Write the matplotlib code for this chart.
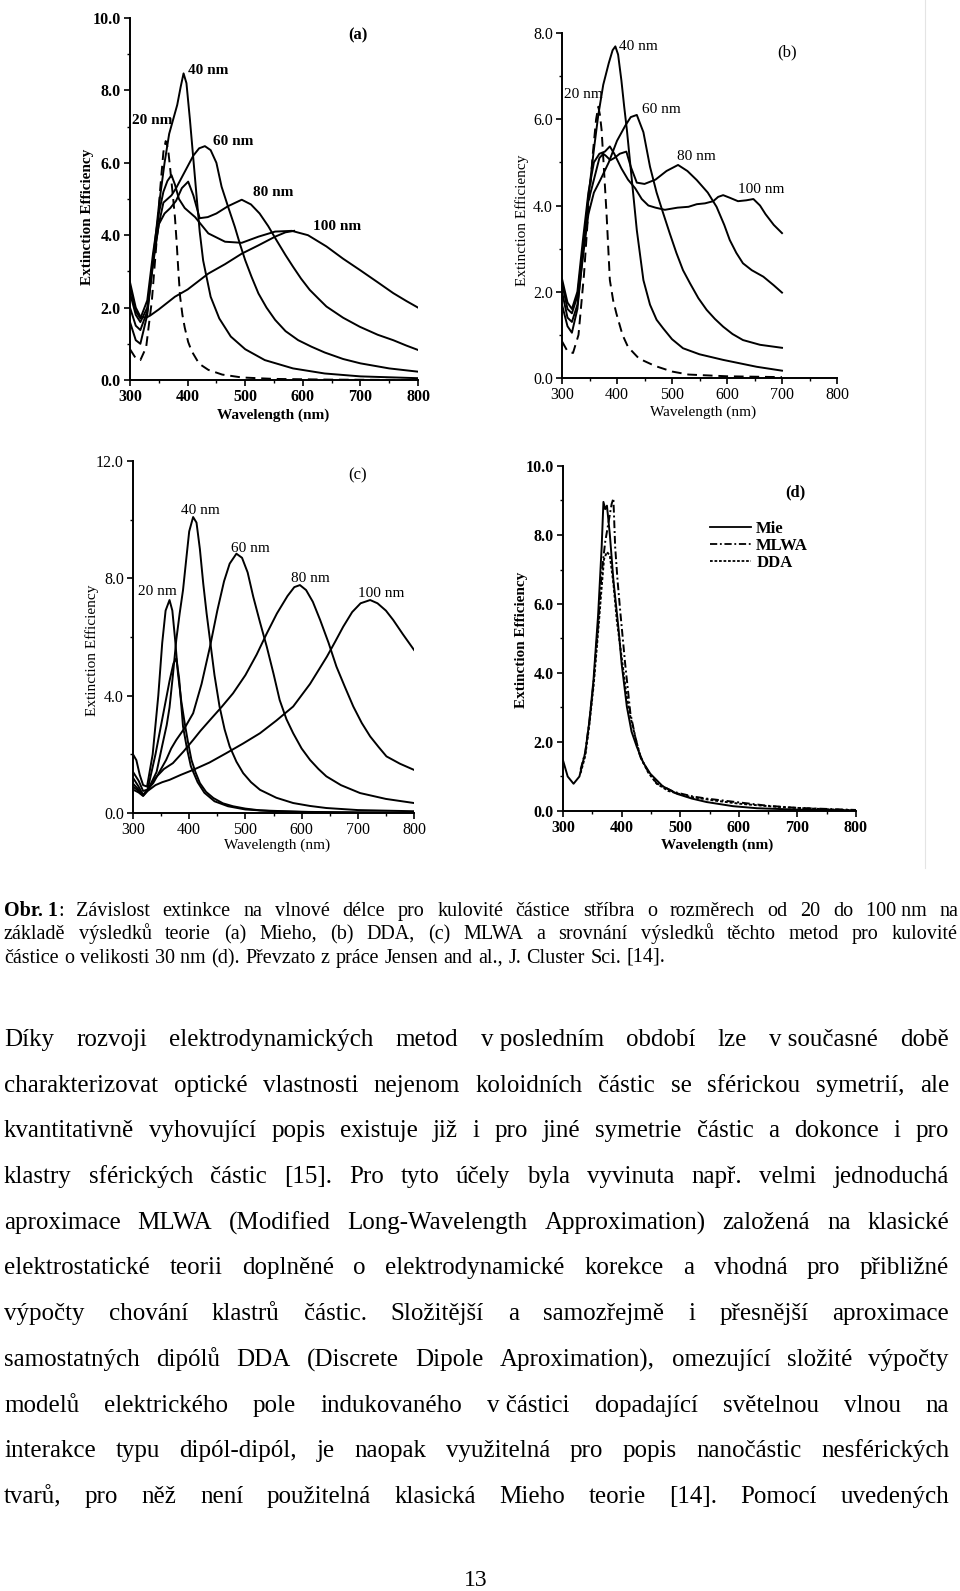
import numpy as np
import matplotlib
matplotlib.use('Agg')
import matplotlib.pyplot as plt
from matplotlib.ticker import MultipleLocator, FormatStrFormatter
from matplotlib.lines import Line2D
from matplotlib.figure import Figure
from matplotlib.backends.backend_agg import FigureCanvasAgg

FAMILY = ['Liberation Serif', 'DejaVu Serif']
plt.rcParams['font.family'] = FAMILY

W, H = 960, 1591

# (a) Mie
wl_a20 = [300,310,318,328,338,346,352,358,362,366,370,375,378,381,384,387,391,395,401,407,420,436,460,494,550,650,800]
ext_a20 = [0.85,0.6,0.55,0.9,2.2,3.8,5.2,6.3,6.6,6.4,5.8,5.0,4.5,3.8,3.0,2.3,1.8,1.45,1.05,0.8,0.45,0.28,0.15,0.07,0.03,0.01,0.0]
wl_a40 = [300,310,318,330,340,350,360,368,375,382,388,393,398,404,410,416,421,427,440,455,475,500,534,583,638,700,800]
ext_a40 = [1.6,1.1,1.0,1.8,3.3,4.8,6.0,6.8,7.2,7.6,8.1,8.47,8.2,7.2,6.1,5.0,4.1,3.3,2.3,1.7,1.2,0.85,0.55,0.32,0.18,0.1,0.05]
wl_a60 = [300,310,318,330,340,350,358,365,372,380,390,400,410,420,430,440,450,459,470,482,491,500,511,523,537,552,570,592,615,638,670,700,750,800]
ext_a60 = [2.0,1.5,1.38,1.9,3.2,4.3,4.9,5.0,5.1,5.3,5.6,5.9,6.2,6.4,6.46,6.35,6.0,5.34,4.8,4.23,3.75,3.31,2.85,2.39,2.0,1.66,1.35,1.1,0.92,0.76,0.58,0.46,0.32,0.23]
wl_a80 = [300,310,318,330,340,350,360,370,380,390,401,410,421,435,450,470,494,510,525,540,554,570,583,597,612,627,641,670,699,730,757,780,800]
ext_a80 = [2.4,1.8,1.6,2.0,3.3,4.3,4.6,4.75,4.95,5.3,5.48,5.1,4.47,4.5,4.6,4.8,4.98,4.85,4.6,4.25,3.87,3.45,3.13,2.8,2.49,2.25,2.03,1.72,1.47,1.25,1.1,0.95,0.83]
wl_a100 = [300,310,318,330,340,350,358,365,372,378,385,395,413,436,465,494,523,552,581,609,641,670,699,730,757,780,800]
ext_a100 = [2.6,1.9,1.7,2.2,3.5,4.6,5.2,5.5,5.66,5.4,5.0,4.75,4.5,4.05,3.82,3.79,3.96,4.1,4.12,4.0,3.69,3.35,3.04,2.7,2.4,2.18,2.0]
wl_a_low = [300,310,318,328,335,350,378,400,436,465,494,523,552,570,585]
ext_a_low = [2.7,2.0,1.75,1.72,1.78,1.95,2.3,2.5,2.94,3.2,3.49,3.72,3.96,4.08,4.12]

# (b) DDA
wl_b20 = [300,310,320,330,340,348,356,362,366,369,372,376,381,387,393,399,410,420,440,469,500,530,600,700]
ext_b20 = [0.85,0.62,0.58,1.0,2.4,3.9,5.2,6.0,6.29,6.1,5.75,4.9,3.81,2.27,1.8,1.49,1.0,0.72,0.45,0.28,0.15,0.08,0.04,0.02]
wl_b40 = [300,310,318,328,338,348,358,366,375,385,392,397,402,408,413,418,427,436,448,460,472,484,500,520,550,593,654,700]
ext_b40 = [1.7,1.2,1.05,1.6,2.9,4.2,5.3,6.1,6.8,7.3,7.6,7.69,7.5,6.9,6.3,5.75,4.59,3.43,2.27,1.7,1.35,1.15,0.9,0.69,0.55,0.42,0.26,0.17]
wl_b60 = [300,310,318,328,338,348,358,370,385,400,415,425,436,448,460,472,484,496,508,520,533,548,563,578,593,610,629,660,700]
ext_b60 = [2.0,1.4,1.3,1.7,2.8,3.8,4.3,4.6,5.0,5.5,5.85,6.05,6.1,5.7,4.9,4.3,3.82,3.35,2.9,2.5,2.19,1.85,1.58,1.37,1.19,1.02,0.88,0.77,0.70]
wl_b80 = [300,310,318,328,338,348,358,368,375,380,388,395,405,417,425,436,450,470,490,511,528,545,565,581,595,605,617,629,645,666,685,700]
ext_b80 = [2.2,1.6,1.5,1.9,3.0,4.1,4.6,5.1,5.2,5.15,5.05,5.1,5.2,5.25,4.9,4.53,4.5,4.6,4.8,4.94,4.8,4.59,4.3,3.97,3.55,3.2,2.9,2.66,2.5,2.35,2.15,1.98]
wl_b100 = [300,310,318,328,338,348,358,368,378,387,395,408,420,433,445,457,470,487,510,530,545,560,575,584,593,605,620,635,648,660,670,685,700]
ext_b100 = [2.3,1.75,1.6,2.0,3.2,4.3,5.0,5.2,5.25,5.37,5.2,4.86,4.6,4.4,4.15,4.0,3.95,3.9,3.95,3.97,4.03,4.05,4.1,4.2,4.24,4.18,4.1,4.12,4.15,4.0,3.8,3.55,3.36]

# (c) MLWA
wl_c20 = [300,306,312,318,325,335,345,352,358,365,370,375,380,386,392,398,404,411,419,430,443,460,478,500,526,600,700,800]
ext_c20 = [2.0,1.8,1.3,0.95,0.9,2.0,4.0,5.8,6.9,7.26,6.9,5.9,4.76,3.8,3.06,2.4,1.81,1.4,1.02,0.72,0.51,0.33,0.23,0.15,0.09,0.04,0.02,0.01]
wl_c_q = [300,310,318,326,340,355,365,372,377,382,389,396,403,415,427,445,469,500,550,650,800]
ext_c_q = [1.4,1.1,0.75,0.8,2.0,3.5,4.5,5.1,5.27,4.6,2.95,2.2,1.59,1.05,0.69,0.4,0.23,0.12,0.06,0.02,0.01]
wl_c40 = [300,310,318,328,342,352,360,365,371,377,383,389,395,400,407,413,419,425,431,437,445,454,463,472,484,496,510,526,555,585,615,644,700,800]
ext_c40 = [1.2,0.9,0.62,0.85,1.4,2.3,3.0,3.6,4.7,5.9,6.8,7.6,8.7,9.6,10.09,9.9,9.0,7.82,6.8,5.9,4.7,3.63,2.85,2.27,1.75,1.36,1.05,0.79,0.52,0.34,0.24,0.17,0.1,0.06]
wl_c60 = [300,310,318,326,336,347,359,368,377,392,407,422,437,450,462,472,484,494,504,514,526,538,550,561,573,585,600,615,630,644,670,704,750,800]
ext_c60 = [1.0,0.8,0.6,0.8,1.02,1.4,1.81,2.2,2.49,2.9,3.4,4.4,5.67,6.9,7.9,8.5,8.84,8.7,8.2,7.37,6.5,5.67,4.75,3.85,3.2,2.72,2.2,1.81,1.5,1.25,0.95,0.68,0.48,0.34]
wl_c80 = [300,310,318,326,340,355,371,390,407,420,437,457,478,500,520,538,556,575,587,597,608,620,633,648,662,677,692,707,722,737,751,775,800]
ext_c80 = [0.9,0.75,0.6,0.78,1.2,1.5,1.7,2.1,2.49,2.8,3.17,3.6,4.08,4.7,5.4,6.12,6.8,7.4,7.7,7.77,7.6,7.2,6.58,5.8,4.99,4.3,3.63,3.07,2.61,2.25,1.93,1.68,1.47]
wl_c100 = [300,310,318,326,340,352,365,385,407,436,466,496,526,555,585,615,645,660,674,690,705,722,735,750,763,780,800]
ext_c100 = [0.8,0.7,0.58,0.75,0.95,1.05,1.13,1.3,1.47,1.72,2.04,2.37,2.72,3.15,3.63,4.4,5.33,5.85,6.35,6.85,7.15,7.26,7.15,6.9,6.58,6.1,5.56]

# (d) 30 nm comparison
wl_mie = [300,308,318,328,338,345,352,360,366,369,372,375,380,386,395,400,409,417,426,437,449,470,494,520,545,590,631,700,800]
ext_mie = [1.47,1.0,0.79,1.0,1.7,2.6,3.79,5.7,7.66,8.96,8.75,8.85,8.0,6.69,5.24,4.28,3.02,2.3,1.86,1.4,1.08,0.72,0.5,0.36,0.26,0.14,0.08,0.04,0.02]
wl_mlwa = [330,338,345,352,360,366,372,378,383,386,389,393,398,406,415,424,432,445,460,490,522,545,600,650,700,800]
ext_mlwa = [1.2,1.7,2.6,3.7,5.4,6.9,7.8,8.4,8.9,9.06,7.66,6.7,5.73,4.28,2.83,2.1,1.57,1.15,0.8,0.55,0.42,0.36,0.25,0.15,0.09,0.03]
wl_dda = [330,338,345,352,360,366,370,375,380,386,392,400,408,415,424,432,446,460,480,517,560,602,650,687,750,800]
ext_dda = [1.1,1.6,2.5,3.6,5.2,6.5,7.3,7.51,7.4,6.6,5.5,4.47,3.4,2.73,2.1,1.57,1.1,0.79,0.58,0.41,0.3,0.21,0.14,0.1,0.05,0.02]

caption = [
    "Obr.~1: Závislost extinkce na vlnové délce pro kulovité částice stříbra o rozměrech od 20 do 100~nm na",
    "základě výsledků teorie (a) Mieho, (b) DDA, (c) MLWA a srovnání výsledků těchto metod pro kulovité",
    "částice o velikosti 30~nm (d). Převzato z práce Jensen and al., J. Cluster Sci. [14].",
]
body = [
    "Díky rozvoji elektrodynamických metod v~posledním období lze v~současné době",
    "charakterizovat optické vlastnosti nejenom koloidních částic se sférickou symetrií, ale",
    "kvantitativně vyhovující popis existuje již i pro jiné symetrie částic a dokonce i pro",
    "klastry sférických částic [15]. Pro tyto účely byla vyvinuta např. velmi jednoduchá",
    "aproximace MLWA (Modified Long-Wavelength Approximation) založená na klasické",
    "elektrostatické teorii doplněné o elektrodynamické korekce a vhodná pro přibližné",
    "výpočty chování klastrů částic. Složitější a samozřejmě i přesnější aproximace",
    "samostatných dipólů DDA (Discrete Dipole Aproximation), omezující složité výpočty",
    "modelů elektrického pole indukovaného v~částici dopadající světelnou vlnou na",
    "interakce typu dipól-dipól, je naopak využitelná pro popis nanočástic nesférických",
    "tvarů, pro něž není použitelná klasická Mieho teorie [14]. Pomocí uvedených",
]

fig = plt.figure(figsize=(W / 100, H / 100), dpi=100)
fig.patch.set_facecolor('white')


def ftxt(px, py, s, **kw):
    return fig.text(px / W, 1 - py / H, s, **kw)


def panel(x0, y0, x1, y1, ytop, ystep, yminor, weight):
    ax = fig.add_axes([x0 / W, 1 - y1 / H, (x1 - x0) / W, (y1 - y0) / H])
    ax.set_xlim(300, 800)
    ax.set_ylim(0, ytop)
    ax.spines[['top', 'right']].set_visible(False)
    ax.spines[['left', 'bottom']].set_linewidth(1.4)
    ax.xaxis.set_major_locator(MultipleLocator(100))
    ax.xaxis.set_minor_locator(MultipleLocator(50))
    ax.yaxis.set_major_locator(MultipleLocator(ystep))
    ax.yaxis.set_minor_locator(MultipleLocator(yminor))
    ax.yaxis.set_major_formatter(FormatStrFormatter('%.1f'))
    ax.tick_params(which='major', length=4.5, width=1.2, labelsize=11.5, pad=2)
    ax.tick_params(which='minor', length=2.5, width=1.0)
    plt.setp(ax.get_xticklabels() + ax.get_yticklabels(), fontweight=weight)
    return ax


def curve(ax, x, y, **kw):
    ax.plot(x, y, color='black', lw=1.4, **kw)


dash = dict(ls=(0, (5, 3)))
lab = dict(fontsize=11, ha='center', va='center')

# (a)
ax = panel(130, 18, 418, 380, 10, 2, 1, 'bold')
curve(ax, wl_a20, ext_a20, **dash)
curve(ax, wl_a40, ext_a40)
curve(ax, wl_a60, ext_a60)
curve(ax, wl_a80, ext_a80)
curve(ax, wl_a100, ext_a100)
curve(ax, wl_a_low, ext_a_low)
for s, x, y in [('20 nm', 338, 7.18), ('40 nm', 435, 8.56), ('60 nm', 479, 6.58),
                ('80 nm', 548, 5.17), ('100 nm', 659, 4.23)]:
    ax.text(x, y, s, fontweight='bold', **lab)
ftxt(358, 35, '(a)', fontsize=12, fontweight='bold', ha='center', va='center')
ftxt(88, 217, 'Extinction Efficiency', fontsize=11, fontweight='bold', rotation=90, ha='center', va='center')
ftxt(273, 415, 'Wavelength (nm)', fontsize=11, fontweight='bold', ha='center', va='center')

# (b)
ax = panel(562, 33, 837, 378, 8, 2, 1, 'normal')
curve(ax, wl_b20, ext_b20, **dash)
curve(ax, wl_b40, ext_b40)
curve(ax, wl_b60, ext_b60)
curve(ax, wl_b80, ext_b80)
curve(ax, wl_b100, ext_b100)
for s, x, y in [('20 nm', 339, 6.57), ('40 nm', 439, 7.69), ('60 nm', 481, 6.22),
                ('80 nm', 545, 5.13), ('100 nm', 663, 4.36)]:
    ax.text(x, y, s, **lab)
ftxt(787, 52, '(b)', fontsize=12, ha='center', va='center')
ftxt(522, 220, 'Extinction Efficiency', fontsize=11, rotation=90, ha='center', va='center')
ftxt(703, 412, 'Wavelength (nm)', fontsize=11, ha='center', va='center')

# (c)
ax = panel(133, 461, 414, 813, 12, 4, 2, 'normal')
curve(ax, wl_c20, ext_c20)
curve(ax, wl_c_q, ext_c_q)
curve(ax, wl_c40, ext_c40)
curve(ax, wl_c60, ext_c60)
curve(ax, wl_c80, ext_c80)
curve(ax, wl_c100, ext_c100)
for s, x, y in [('20 nm', 344, 7.54), ('40 nm', 419, 10.32), ('60 nm', 508, 9.01),
                ('80 nm', 615, 7.99), ('100 nm', 742, 7.48)]:
    ax.text(x, y, s, **lab)
ftxt(358, 475, '(c)', fontsize=12, ha='center', va='center')
ftxt(92, 650, 'Extinction Efficiency', fontsize=11, rotation=90, ha='center', va='center')
ftxt(277, 845, 'Wavelength (nm)', fontsize=11, ha='center', va='center')

# (d)
ax = panel(563, 466, 856, 811, 10, 2, 1, 'bold')
curve(ax, wl_mie, ext_mie)
curve(ax, wl_mlwa, ext_mlwa, ls=(0, (4, 1.5, 1, 1.5)))
curve(ax, wl_dda, ext_dda, ls=(0, (1.5, 1)))
handles = [Line2D([], [], color='black', lw=1.3),
           Line2D([], [], color='black', lw=1.3, ls=(0, (4, 1.5, 1, 1.5))),
           Line2D([], [], color='black', lw=1.3, ls=(0, (1.5, 1)))]
ax.legend(handles, ['Mie', 'MLWA', 'DDA'], loc='upper left', bbox_to_anchor=(0.5, 0.84),
          frameon=False, borderpad=0, borderaxespad=0, handlelength=2.5, handletextpad=0.3,
          labelspacing=0.05, prop={'size': 12, 'weight': 'bold'})
ftxt(795, 492, '(d)', fontsize=12, fontweight='bold', ha='center', va='center')
ftxt(522, 640, 'Extinction Efficiency', fontsize=11, fontweight='bold', rotation=90, ha='center', va='center')
ftxt(717, 845, 'Wavelength (nm)', fontsize=11, fontweight='bold', ha='center', va='center')

# faint border of the scanned figure
fig.add_artist(Line2D([925 / W, 925 / W], [1 - 868 / H, 1], color='#e4e4e4', lw=0.8))

renderer = fig.canvas.get_renderer()

# scratch canvas: how far a lone word is drawn off the baseline of an "H"
scratch = Figure(figsize=(9, 1.2), dpi=100)
scanvas = FigureCanvasAgg(scratch)
shift_cache = {}


def ink_rows(img, c0, c1):
    return np.where((img[:, c0:c1] < 140).any(axis=1))[0]


def v_shift(word, size, weight):
    key = (word, size, weight)
    if key in shift_cache:
        return shift_cache[key]
    scratch.clear()
    kw = dict(fontsize=size, fontweight=weight, va='baseline', ha='left', family=FAMILY)
    scratch.text(10 / 900, 0.5, word, **kw)
    scratch.text(300 / 900, 0.5, 'H', **kw)
    scratch.text(360 / 900, 0.5, 'H\u2003\u2003' + word, **kw)
    scanvas.draw()
    img = np.asarray(scanvas.buffer_rgba())[:, :, 0]
    try:
        t1 = ink_rows(img, 0, 290).min()
        bh = ink_rows(img, 290, 350).max()
        cols = np.where((img[:, 350:] < 140).any(axis=0))[0] + 350
        gaps = np.where(np.diff(cols) > 15)[0]
        split = cols[gaps[0]] + 1
        hb2 = ink_rows(img, 350, split).max()
        t2 = ink_rows(img, split, 900).min()
        d = int(np.clip((t1 - t2) + (hb2 - bh), -6, 6))
    except (ValueError, IndexError):
        d = 0
    shift_cache[key] = d
    return d


def put_line(line, base, x0, x1, size, justify=True, bold_first=False):
    base = round(base)
    words = line.split(' ')
    items, widths = [], []
    for i, w in enumerate(words):
        if bold_first and i == 0:
            parts = [(w.replace('~', ' ').rstrip(':'), 'bold'), (':', 'normal')]
        else:
            parts = [(w.replace('~', ' '), 'normal')]
        segs, off = [], 0
        for s, wt in parts:
            t = ftxt(0, base - v_shift(s, size, wt), s, fontsize=size, fontweight=wt,
                     va='baseline', ha='left')
            segs.append((t, off))
            off += t.get_window_extent(renderer).width
        items.append(segs)
        widths.append(off)
    sp = size * 0.25 * 100 / 72 * 1.1
    gap = (x1 - x0 - sum(widths)) / (len(words) - 1) if justify else sp
    x = x0
    for segs, w in zip(items, widths):
        for t, off in segs:
            t.set_x((x + off) / W)
        x += w + gap


for k, line in enumerate(caption):
    put_line(line, 916 + 23.4 * k, 4, 958, 14.5, justify=(k < 2), bold_first=(k == 0))

for k, line in enumerate(body):
    put_line(line, 1046 + 45.7 * k, 4, 949, 18)

ftxt(476, 1586, '13', fontsize=17, ha='center', va='baseline')

fig.savefig('out.png', dpi=100, facecolor='white')
